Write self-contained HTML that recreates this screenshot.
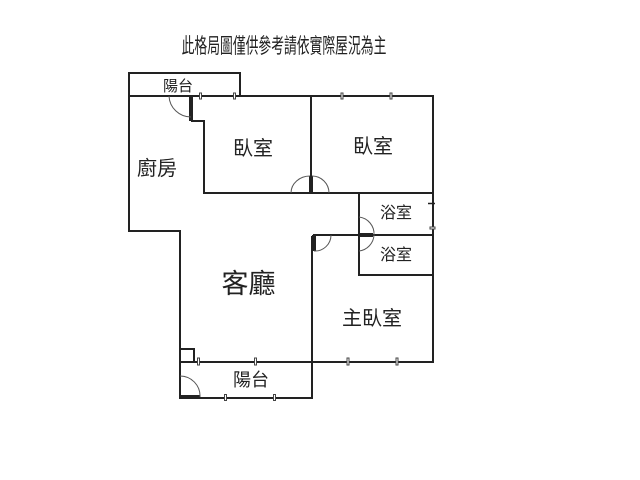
<!DOCTYPE html>
<html>
<head>
<meta charset="utf-8">
<style>
html,body{margin:0;padding:0;background:#fff;width:640px;height:480px;overflow:hidden}
svg{display:block}
text{font-family:"Liberation Sans","Noto Sans CJK TC",sans-serif;fill:#222;text-anchor:middle}
.w{stroke:#222;stroke-width:2;fill:none}
.t{stroke:#222;stroke-width:4;fill:none}
.a{stroke:#555;stroke-width:1;fill:none}
.m{fill:#fff;stroke:#444;stroke-width:1}
</style>
</head>
<body>
<svg width="640" height="480" viewBox="0 0 640 480" xmlns="http://www.w3.org/2000/svg">
<rect width="640" height="480" fill="#fff"/>
<text x="0" y="0" font-size="21" transform="translate(284 53) scale(.61 1)">此格局圖僅供參考請依實際屋況為主</text>

<!-- walls -->
<path class="w" d="M129 96V73H240V96"/>
<path class="w" d="M129 96H433V362H180"/>
<path class="w" d="M129 96V231H180V398H312V236"/>
<path class="w" d="M191 121H204V193H433"/>
<path class="w" d="M311 96V193"/>
<path class="w" d="M359 193V275H433"/>
<path class="w" d="M313 235H433"/>
<path class="w" d="M180 349H194V362"/>

<!-- thick door jambs -->
<path class="t" d="M191 96V121"/>
<path class="t" d="M311 176V193"/>
<path class="t" d="M360 235H373"/>
<path class="t" d="M314 235V251"/>
<path class="t" d="M180 397H200"/>

<!-- door arcs -->
<path class="a" d="M169 96A22 22 0 0 0 191 117"/>
<path class="a" d="M291 193A19 17 0 0 1 310 176"/>
<path class="a" d="M329 193A17 17 0 0 0 312 176"/>
<path class="a" d="M359 217A17 17 0 0 1 374 235"/>
<path class="a" d="M374 235A17 17 0 0 1 359 251"/>
<path class="a" d="M331 235A16 16 0 0 1 314 251"/>
<path class="a" d="M200 397A20 20 0 0 0 180 376"/>

<!-- window marks -->
<rect class="m" x="199.500" y="93" width="2" height="6"/>
<rect class="m" x="233.500" y="93" width="2" height="6"/>
<rect class="m" x="341" y="93" width="2" height="6"/>
<rect class="m" x="390" y="93" width="2" height="6"/>
<rect class="m" x="197.500" y="358" width="2" height="7"/>
<rect class="m" x="254.500" y="358" width="2" height="7"/>
<rect class="m" x="347" y="358" width="2" height="7"/>
<rect class="m" x="396" y="358" width="2" height="7"/>
<rect class="m" x="224.500" y="394.500" width="2" height="6"/>
<rect class="m" x="273.500" y="394.500" width="2" height="6"/>
<path d="M428 203.500H435" stroke="#222" stroke-width="1.500"/>
<rect class="m" x="430" y="227" width="5" height="2"/>

<!-- labels -->
<text x="178" y="91" font-size="15">陽台</text>
<text x="253" y="155" font-size="20">臥室</text>
<text x="373" y="153" font-size="20">臥室</text>
<text x="157" y="175" font-size="20">廚房</text>
<text x="396" y="218" font-size="16">浴室</text>
<text x="396" y="260" font-size="16">浴室</text>
<text x="248.500" y="293" font-size="27">客廳</text>
<text x="372" y="325" font-size="20">主臥室</text>
<text x="251" y="386" font-size="18">陽台</text>
</svg>
</body>
</html>
